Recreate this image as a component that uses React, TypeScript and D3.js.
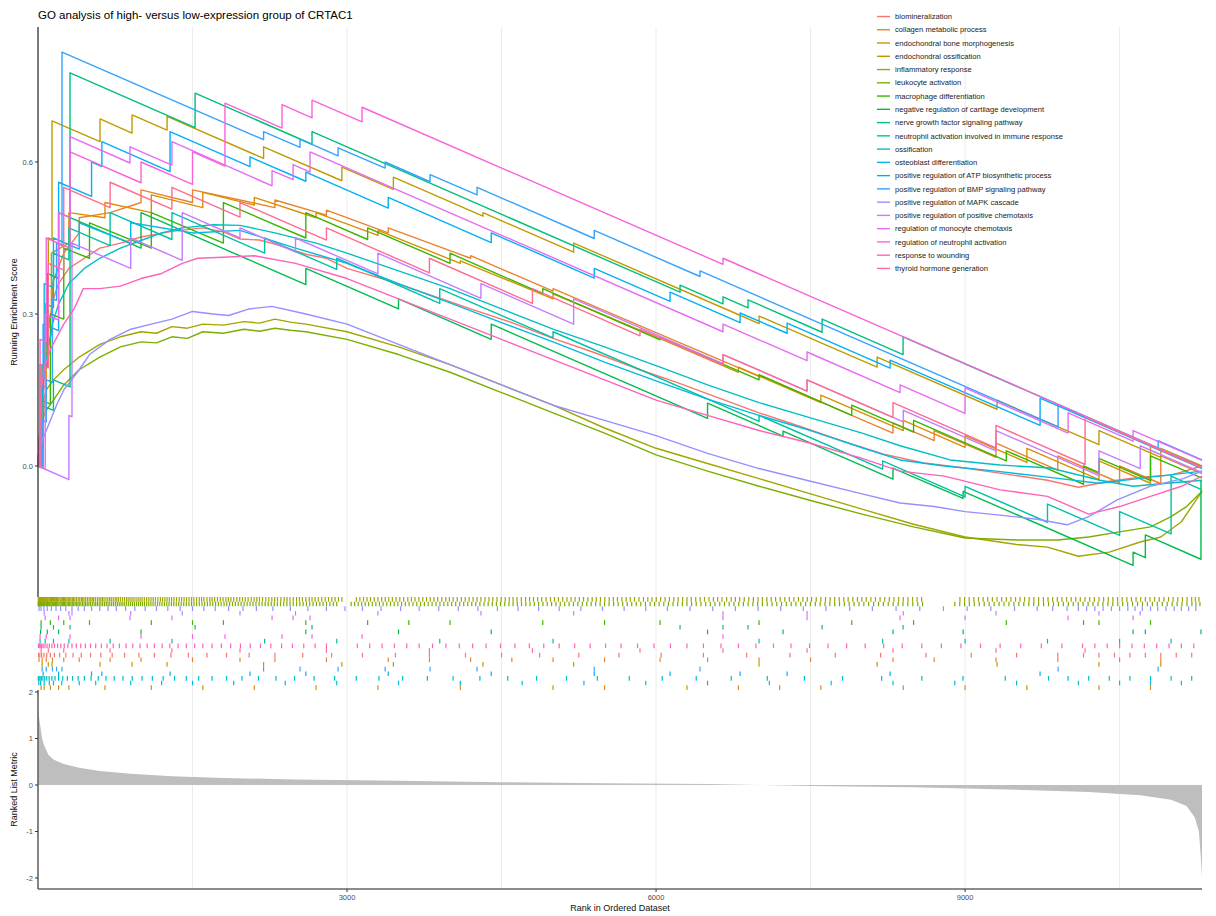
import { useRef, useEffect } from "react";
import * as d3 from "d3";

const setNames = [
  "biomineralization",
  "collagen metabolic process",
  "endochondral bone morphogenesis",
  "endochondral ossification",
  "inflammatory response",
  "leukocyte activation",
  "macrophage differentiation",
  "negative regulation of cartilage development",
  "nerve growth factor signaling pathway",
  "neutrophil activation involved in immune response",
  "ossification",
  "osteoblast differentiation",
  "positive regulation of ATP biosynthetic process",
  "positive regulation of BMP signaling pathway",
  "positive regulation of MAPK cascade",
  "positive regulation of positive chemotaxis",
  "regulation of monocyte chemotaxis",
  "regulation of neutrophil activation",
  "response to wounding",
  "thyroid hormone generation",
];

const setColors = [
  "#F8766D", "#EA8331", "#D89000", "#C09B00", "#A3A500",
  "#7CAE00", "#39B600", "#00BB4E", "#00BF7D", "#00C1A3",
  "#00BFC4", "#00BAE0", "#00B0F6", "#35A2FF", "#9590FF",
  "#C77CFF", "#E76BF3", "#FA62DB", "#FF62BC", "#FF6C91",
];

// running enrichment score, [rank, score]
const esBiomineralization = [[0,0],[30,0.12],[60,0.2],[100,0.27],[150,0.33],[200,0.36],[300,0.39],[450,0.41],[600,0.43],[800,0.44],[1000,0.452],[1300,0.463],[1600,0.47],[1800,0.462],[1961,0.448],[2150,0.446],[2300,0.438],[2600,0.418],[2800,0.41],[3000,0.39],[3400,0.366],[3800,0.338],[4200,0.31],[4600,0.283],[5000,0.252],[5400,0.224],[5800,0.193],[6200,0.165],[6600,0.135],[7000,0.105],[7400,0.078],[7800,0.05],[8200,0.024],[8600,0.006],[9000,-0.004],[9400,-0.016],[9800,-0.028],[10100,-0.042],[10400,-0.03],[10700,-0.022],[11000,-0.018],[11300,0]];
const esCollagen = [[0,0],[40,0.08],[80,0.15],[80,0.22],[140,0.27],[140,0.36],[250,0.42],[400,0.46],[400,0.49],[700,0.5],[1000,0.52],[1000,0.545],[1500,0.52],[1500,0.545],[1961,0.525],[2300,0.51],[2300,0.525],[2800,0.495],[2800,0.505],[3400,0.46],[3400,0.47],[4200,0.41],[4200,0.415],[5000,0.345],[5000,0.35],[6039,0.26],[7000,0.177],[7000,0.18],[7787,0.11],[8300,0.065],[8300,0.085],[8700,0.05],[8700,0.07],[9300,0.017],[9300,0.045],[9900,-0.008],[9900,0.02],[10500,-0.033],[10500,0.0],[10900,-0.035],[10900,0.02],[11300,-0.015]];
const esBoneMorph = [[0,0],[30,0.06],[30,0.14],[70,0.16],[70,0.26],[130,0.3],[130,0.42],[300,0.44],[300,0.5],[650,0.49],[650,0.52],[1100,0.5],[1100,0.535],[1600,0.51],[1600,0.54],[2100,0.515],[2100,0.53],[2700,0.49],[2700,0.5],[3300,0.455],[3300,0.465],[4100,0.4],[4100,0.405],[5000,0.33],[5000,0.34],[6000,0.255],[6800,0.185],[6800,0.195],[7600,0.125],[7600,0.14],[8400,0.07],[8400,0.09],[9000,0.037],[9000,0.06],[9600,0.007],[9600,0.035],[10300,-0.027],[10300,0.01],[10800,-0.034],[10800,0.04],[11300,-0.004]];
const esEndoOssification = [[0,0],[40,0.0],[40,0.2],[100,0.195],[100,0.45],[136,0.447],[136,0.681],[602,0.64],[602,0.685],[913,0.657],[913,0.693],[1253,0.663],[1253,0.69],[2190,0.607],[2190,0.63],[2950,0.563],[2950,0.59],[3450,0.546],[3450,0.57],[4320,0.493],[4320,0.5],[5200,0.422],[5200,0.44],[6786,0.3],[7000,0.281],[7000,0.296],[8146,0.195],[8146,0.215],[9310,0.112],[9310,0.13],[10300,0.042],[10300,0.07],[10900,0.017],[10900,0.035],[11300,0.0]];
const esInflammatory = [[0,0],[15,0.06],[40,0.12],[80,0.15],[150,0.17],[250,0.19],[400,0.215],[600,0.24],[800,0.255],[1000,0.265],[1150,0.262],[1300,0.275],[1450,0.272],[1600,0.28],[1800,0.278],[2000,0.285],[2150,0.282],[2300,0.29],[2450,0.284],[2600,0.28],[3000,0.265],[3500,0.235],[4000,0.2],[4500,0.16],[5000,0.12],[5500,0.075],[6000,0.035],[6500,0.005],[7000,-0.025],[7500,-0.055],[8000,-0.085],[8500,-0.115],[9000,-0.14],[9500,-0.155],[9800,-0.16],[10100,-0.178],[10400,-0.17],[10700,-0.15],[10900,-0.14],[11100,-0.11],[11200,-0.08],[11300,-0.05]];
const esLeukocyte = [[0,0],[15,0.04],[40,0.09],[80,0.11],[150,0.13],[250,0.16],[400,0.19],[600,0.215],[800,0.235],[1000,0.245],[1150,0.243],[1300,0.255],[1450,0.252],[1600,0.265],[1800,0.262],[2000,0.27],[2150,0.266],[2300,0.272],[2450,0.268],[2600,0.265],[3000,0.25],[3500,0.22],[4000,0.185],[4500,0.145],[5000,0.105],[5500,0.065],[6000,0.022],[6500,-0.01],[7000,-0.04],[7500,-0.068],[8000,-0.095],[8500,-0.12],[9000,-0.142],[9500,-0.146],[9900,-0.146],[10200,-0.14],[10500,-0.13],[10800,-0.12],[11000,-0.1],[11150,-0.08],[11300,-0.05]];
const esMacrophage = [[0,0],[30,0.0],[30,0.13],[120,0.122],[120,0.3],[250,0.29],[250,0.43],[500,0.41],[500,0.48],[1100,0.43],[1100,0.5],[1800,0.44],[1800,0.52],[2600,0.45],[2600,0.5],[3200,0.447],[3200,0.47],[4000,0.4],[4000,0.42],[4900,0.34],[4900,0.35],[6039,0.249],[6039,0.255],[7000,0.17],[7000,0.18],[7900,0.1],[7900,0.12],[8500,0.067],[8500,0.09],[9400,0.01],[9400,0.03],[10150,-0.036],[10150,0.0],[10300,-0.013],[10300,0.015],[10800,-0.029],[10800,0.02],[11300,-0.024]];
const esCartilage = [[0,0],[25,0.0],[25,0.2],[90,0.194],[90,0.38],[200,0.37],[200,0.5],[1000,0.43],[1000,0.5],[2600,0.358],[2600,0.39],[3500,0.31],[3500,0.33],[4400,0.25],[4400,0.28],[6500,0.094],[6500,0.124],[7233,0.059],[7233,0.069],[8300,-0.026],[8300,-0.004],[8981,-0.064],[8981,-0.05],[10631,-0.196],[10631,-0.17],[10750,-0.181],[10750,-0.136],[11290,-0.184],[11290,-0.03],[11300,-0.03]];
const esNerveGrowth = [[0,0],[30,0.0],[30,0.12],[150,0.11],[150,0.17],[311,0.156],[311,0.776],[1525,0.668],[1525,0.736],[2660,0.635],[2660,0.66],[6233,0.343],[6233,0.357],[6650,0.32],[6650,0.334],[6893,0.312],[6893,0.328],[7612,0.264],[7612,0.29],[8398,0.22],[8398,0.255],[11300,-0.002]];
const esNeutrophilImmune = [[0,0],[20,0.0],[20,0.2],[70,0.196],[70,0.32],[150,0.313],[150,0.42],[300,0.407],[300,0.47],[700,0.435],[700,0.5],[1300,0.447],[1300,0.5],[2200,0.42],[2200,0.45],[2900,0.388],[2900,0.41],[3900,0.321],[3900,0.35],[5000,0.253],[5000,0.265],[7000,0.088],[7000,0.1],[8200,-0.006],[8200,0.01],[9000,-0.061],[9000,-0.04],[9800,-0.111],[9800,-0.075],[10500,-0.137],[10500,-0.09],[11000,-0.134],[11000,-0.02],[11300,-0.047]];
const esOssification = [[0,0],[20,0.08],[50,0.16],[90,0.22],[140,0.28],[200,0.32],[300,0.36],[450,0.39],[600,0.41],[800,0.43],[1000,0.445],[1200,0.46],[1400,0.47],[1700,0.476],[1961,0.475],[2300,0.46],[2700,0.44],[3000,0.42],[3500,0.385],[4000,0.35],[4500,0.31],[5000,0.27],[5500,0.235],[6039,0.195],[6500,0.16],[7000,0.125],[7500,0.095],[8000,0.065],[8369,0.04],[8855,0.012],[9340,0.002],[9825,-0.004],[10311,-0.028],[10631,-0.04],[10960,-0.034],[11300,-0.028]];
const esOsteoblast = [[0,0],[20,0.0],[20,0.2],[60,0.196],[60,0.36],[150,0.352],[150,0.45],[400,0.428],[400,0.48],[900,0.44],[900,0.48],[1500,0.46],[1961,0.465],[2500,0.43],[3000,0.4],[3500,0.36],[4000,0.322],[4500,0.283],[5000,0.245],[5500,0.205],[6000,0.168],[6500,0.132],[7000,0.1],[7500,0.07],[8000,0.036],[8369,0.012],[8800,0.0],[9300,-0.01],[9800,-0.022],[10300,-0.034],[10800,-0.022],[11300,-0.01]];
const esATP = [[0,0],[50,-0.004],[50,0.28],[200,0.267],[200,0.56],[520,0.532],[520,0.6],[620,0.591],[620,0.64],[1282,0.581],[1282,0.66],[2058,0.591],[2058,0.61],[2600,0.562],[2600,0.58],[3400,0.509],[3400,0.53],[4400,0.441],[4400,0.46],[5400,0.371],[5400,0.39],[6136,0.325],[6136,0.343],[6816,0.283],[6816,0.302],[7272,0.262],[7272,0.282],[8272,0.193],[8272,0.209],[9728,0.08],[9728,0.134],[11300,-0.005]];
const esBMP = [[0,0],[40,0.0],[40,0.09],[80,0.087],[80,0.17],[140,0.165],[140,0.33],[180,0.327],[180,0.44],[233,0.435],[233,0.817],[2190,0.644],[2190,0.66],[2544,0.629],[2544,0.645],[2913,0.612],[2913,0.628],[3370,0.588],[3370,0.6],[3806,0.561],[3806,0.575],[4262,0.535],[4262,0.55],[5400,0.449],[5400,0.465],[6427,0.374],[6427,0.385],[9903,0.077],[9903,0.12],[10874,0.034],[10874,0.05],[11300,0.012]];
const esMAPK = [[0,0],[15,0.03],[40,0.05],[100,0.08],[180,0.12],[250,0.15],[400,0.19],[500,0.22],[700,0.25],[900,0.27],[1100,0.28],[1300,0.29],[1500,0.305],[1700,0.3],[1850,0.297],[2050,0.31],[2270,0.315],[2600,0.3],[3000,0.28],[3500,0.24],[4000,0.2],[4500,0.16],[5000,0.12],[5500,0.09],[6000,0.06],[6500,0.025],[7000,-0.005],[7500,-0.03],[8000,-0.055],[8369,-0.073],[8700,-0.08],[9000,-0.09],[9340,-0.097],[9700,-0.105],[9990,-0.116],[10200,-0.1],[10476,-0.067],[10796,-0.04],[11117,-0.025],[11300,-0.01]];
const esPosChemotaxis = [[0,0],[300,-0.027],[300,0.1],[330,0.097],[330,0.44],[900,0.39],[900,0.45],[1400,0.406],[1400,0.5],[1961,0.45],[1961,0.47],[2500,0.422],[2500,0.45],[3300,0.379],[3300,0.42],[4300,0.331],[4300,0.36],[5200,0.28],[5200,0.33],[6650,0.202],[6650,0.22],[7466,0.148],[7466,0.17],[8400,0.087],[8400,0.11],[9300,0.03],[9300,0.07],[10300,-0.019],[10300,0.03],[10700,-0.005],[10700,0.04],[11300,-0.013]];
const esMonocyte = [[0,0],[70,-0.006],[70,0.3],[200,0.288],[200,0.5],[311,0.49],[311,0.65],[893,0.598],[893,0.63],[1300,0.594],[1300,0.64],[2272,0.553],[2272,0.583],[2476,0.565],[2476,0.595],[2641,0.58],[2641,0.62],[6650,0.265],[6650,0.28],[7466,0.208],[7466,0.225],[8369,0.145],[8369,0.16],[9000,0.104],[9000,0.154],[10000,0.065],[10000,0.105],[10631,0.049],[10631,0.07],[11300,0.011]];
const esNeutrophilReg = [[0,0],[20,-0.002],[20,0.25],[80,0.245],[80,0.45],[311,0.43],[311,0.62],[1000,0.559],[1000,0.6],[1500,0.556],[1500,0.62],[1815,0.592],[1815,0.716],[2369,0.667],[2369,0.713],[2660,0.687],[2660,0.722],[3146,0.679],[3146,0.708],[6650,0.398],[6650,0.41],[11300,-0.002]];
const esWounding = [[0,0],[15,0.06],[30,0.15],[60,0.19],[120,0.23],[250,0.28],[350,0.31],[440,0.35],[600,0.35],[800,0.355],[1000,0.37],[1200,0.38],[1400,0.4],[1550,0.41],[1800,0.412],[2100,0.415],[2500,0.4],[3000,0.37],[3500,0.33],[4000,0.29],[4500,0.25],[5000,0.21],[5500,0.17],[6000,0.13],[6500,0.1],[7000,0.07],[7500,0.045],[8000,0.015],[8369,-0.01],[8800,-0.02],[9340,-0.047],[9800,-0.06],[10200,-0.095],[10500,-0.08],[10800,-0.06],[11100,-0.04],[11300,-0.02]];
const esThyroid = [[0,0],[30,-0.003],[30,0.2],[100,0.194],[100,0.4],[250,0.387],[250,0.55],[700,0.51],[700,0.56],[1300,0.507],[1300,0.55],[1961,0.491],[1961,0.52],[2800,0.446],[2800,0.47],[3800,0.381],[3800,0.41],[4800,0.321],[4800,0.35],[5844,0.257],[5844,0.27],[6650,0.199],[6650,0.22],[7466,0.148],[7466,0.17],[8300,0.096],[8300,0.125],[9300,0.036],[9300,0.08],[10165,0.003],[10165,0.097],[11300,-0.004]];

// gene hit positions (ranks) for the rug panel
const hitsBiomineralization = [5,18,35,58,85,120,160,210,270,340,420,510,610,720,840,980,1130,1290,1460,1640,1830,2050,2300,2570,2850,3150,3470,3800,4150,4500,4870,5250,5640,6050,6460,6880,7300,7740,8180,8620,9060,9500,9900,10150,10300,10450,10600,10750,10900,11050,11200];
const hitsCollagen = [10,40,80,140,250,400,700,1000,1500,1961,2300,2800,3400,3800,4200,4600,5000,5500,6039,6500,7000,7500,8300,8700,9300,9900,10500,10900];
const hitsBoneMorph = [30,60,120,200,300,650,1100,1600,2100,2700,3300,4100,5000,5500,6300,6800,7200,7600,8400,9000,9600,10300,10800];
const hitsEndoOssification = [40,100,136,602,913,1253,2190,2950,3450,4320,5200,7000,8146,9310,10300,10900];
const hitsInflammatory = [3,9,14,18,23,27,34,41,48,55,62,68,76,84,90,97,106,115,123,131,140,150,161,172,181,190,202,214,225,236,247,259,270,281,294,307,320,333,345,358,374,390,405,421,434,447,463,480,496,512,526,540,558,577,594,610,625,641,660,678,695,712,730,749,765,781,800,820,839,858,875,893,912,931,952,972,991,1010,1032,1055,1076,1097,1118,1140,1164,1188,1210,1232,1253,1275,1297,1320,1345,1371,1394,1418,1442,1466,1490,1513,1540,1566,1588,1610,1640,1668,1690,1715,1742,1770,1797,1824,1848,1873,1900,1930,1958,1985,2012,2040,2070,2098,2124,2150,2180,2211,2240,2270,2298,2325,2358,2390,2418,2446,2478,2510,2538,2567,2600,2633,2660,2690,2722,2755,2788,2820,2852,2884,2917,2950,3090,3125,3160,3194,3228,3264,3300,3336,3371,3405,3440,3476,3512,3550,3590,3625,3660,3698,3735,3772,3808,3844,3880,3920,3958,3994,4030,4070,4110,4148,4185,4224,4262,4300,4340,4378,4415,4456,4497,4536,4575,4612,4650,4692,4733,4772,4810,4850,4890,4932,4975,5014,5052,5094,5135,5175,5214,5255,5296,5338,5380,5420,5460,5502,5545,5585,5625,5668,5710,5750,5790,5834,5878,5920,5960,6002,6045,6088,6130,6172,6215,6258,6300,6342,6385,6428,6470,6514,6557,6598,6640,6685,6730,6770,6812,6856,6900,6945,6990,7032,7075,7118,7160,7205,7250,7294,7338,7382,7425,7468,7510,7555,7600,7645,7690,7734,7778,7822,7865,7910,7955,7998,8040,8085,8130,8175,8220,8265,8310,8355,8400,8445,8490,8534,8578,8950,8995,9040,9085,9130,9175,9220,9265,9310,9355,9400,9445,9490,9534,9578,9622,9668,9714,9760,9805,9850,9895,9940,9985,10030,10074,10118,10164,10210,10255,10300,10345,10390,10435,10480,10525,10570,10615,10660,10705,10750,10795,10840,10885,10930,10975,11020,11065,11110,11155,11200,11235,11270];
const hitsLeukocyte = [1,6,10,13,18,22,28,34,40,47,54,61,68,76,84,92,100,108,116,125,134,143,152,162,171,181,192,203,214,225,236,247,258,270,282,295,308,320,333,346,360,373,387,401,416,432,447,462,478,494,510,527,544,560,577,594,611,628,646,663,680,697,715,733,752,770,788,806,824,842,861,880,899,918,937,957,976,995,1014,1034,1055,1075,1096,1117,1138,1160,1182,1204,1227,1250,1272,1295,1318,1342,1366,1390,1415,1440,1465,1490,1515,1540,1566,1592,1618,1645,1671,1697,1724,1751,1778,1806,1833,1860,1888,1916,1944,1972,2001,2030,2058,2087,2116,2146,2175,2205,2234,2264,2294,2324,2354,2385,2416,2447,2478,2510,2542,2574,2606,2638,2670,2703,2736,2768,2801,2834,2867,2900,3040,3074,3108,3142,3176,3210,3245,3280,3315,3350,3386,3422,3458,3494,3530,3566,3603,3640,3677,3714,3751,3788,3826,3864,3902,3940,3978,4016,4055,4094,4133,4172,4211,4250,4290,4330,4370,4410,4450,4490,4531,4572,4612,4653,4694,4736,4777,4818,4860,4902,4944,4986,5028,5070,5113,5156,5198,5241,5284,5327,5370,5414,5457,5500,5544,5588,5632,5676,5720,5764,5808,5852,5897,5942,5986,6030,6075,6120,6165,6210,6255,6300,6345,6390,6436,6482,6527,6572,6618,6664,6710,6756,6802,6848,6894,6940,6986,7032,7079,7126,7172,7218,7265,7312,7358,7405,7452,7499,7546,7593,7640,7687,7734,7781,7828,7875,7922,7970,8017,8064,8112,8160,8207,8254,8302,8350,8397,8444,8492,8540,8587,8900,8948,8995,9042,9090,9138,9186,9234,9282,9330,9378,9426,9474,9522,9570,9618,9666,9714,9762,9810,9858,9906,9954,10002,10050,10098,10146,10194,10242,10290,10338,10386,10434,10482,10530,10578,10626,10674,10722,10770,10818,10866,10914,10962,11010,11058,11106,11154,11202,11241,11280];
const hitsMacrophage = [30,120,250,500,1100,1500,1800,2600,3200,3600,4000,4900,5500,6039,7000,7900,8500,9400,10150,10300,10800];
const hitsCartilage = [25,90,200,1000,2600,3500,4400,6500,7233,8300,8981,10631,10750,11290];
const hitsNerveGrowth = [30,150,311,1525,2660,6233,6650,6893,7612,8398];
const hitsNeutrophilImmune = [20,70,150,300,700,1300,2200,2900,3900,5000,7000,8200,9000,9800,10500,11000];
const hitsOssification = [3,10,20,33,48,65,85,108,135,165,200,240,285,335,390,450,515,585,660,740,825,915,1010,1110,1215,1325,1440,1560,1690,1830,1980,2140,2310,2490,2680,2880,3090,3310,3540,3780,4030,4290,4560,4840,5130,5430,5740,6060,6390,6730,7080,7440,7810,8190,8580,8980,9390,9810,10000,10200,10400,10600,10800,11000,11200];
const hitsOsteoblast = [8,25,60,110,150,230,400,560,900,1200,1500,1900,2400,2900,3500,4100,4700,5300,5900,6500,7100,7700,8300,8900,9500,10100,10500,10800,11100];
const hitsATP = [50,200,520,620,1282,2058,2600,3400,4400,5400,6136,6816,7272,8272,9728];
const hitsBMP = [40,80,140,180,233,2190,2544,2913,3370,3806,4262,5400,6427,9903,10874];
const hitsMAPK = [10,30,58,90,130,175,220,270,330,390,450,520,600,680,760,850,940,1040,1150,1260,1380,1500,1610,1720,1850,1990,2120,2280,2450,2620,2800,2980,3150,3330,3520,3700,3890,4080,4270,4460,4660,4860,5060,5270,5480,5690,5900,6110,6330,6550,6770,6990,7210,7430,7650,7880,8100,8330,8560,8790,9020,9250,9480,9700,9850,9990,10100,10180,10260,10340,10420,10500,10580,10650,10720,10800,10870,10950,11030,11100,11170,11240];
const hitsPosChemotaxis = [60,300,330,900,1400,1961,2500,3300,4300,5200,6650,7466,8400,9300,10300,10700];
const hitsMonocyte = [70,200,311,893,1300,2272,2476,2641,6650,7466,8369,9000,10000,10631];
const hitsNeutrophilReg = [20,80,311,1000,1500,1815,2369,2660,3146,6650];
const hitsWounding = [4,12,22,35,50,68,88,110,135,160,190,222,255,290,330,372,415,460,510,560,615,670,730,790,855,920,990,1060,1130,1205,1280,1360,1440,1520,1600,1690,1780,1870,1965,2060,2160,2260,2365,2470,2580,2690,2800,3100,3220,3340,3460,3580,3700,3830,3960,4090,4220,4350,4490,4630,4770,4910,5060,5210,5360,5510,5660,5820,5980,6140,6300,6460,6630,6800,6970,7140,7310,7490,7670,7850,8030,8210,8390,8580,8770,8960,9150,9340,9540,9740,9940,10140,10260,10380,10500,10620,10740,10860,10980,11100,11220];
const hitsThyroid = [30,100,250,700,1300,1961,2800,3800,4800,5844,6650,7466,8300,9300,10165];

const esCurves = [esBiomineralization, esCollagen, esBoneMorph, esEndoOssification, esInflammatory, esLeukocyte, esMacrophage, esCartilage, esNerveGrowth, esNeutrophilImmune, esOssification, esOsteoblast, esATP, esBMP, esMAPK, esPosChemotaxis, esMonocyte, esNeutrophilReg, esWounding, esThyroid];
const hitSets = [hitsBiomineralization, hitsCollagen, hitsBoneMorph, hitsEndoOssification, hitsInflammatory, hitsLeukocyte, hitsMacrophage, hitsCartilage, hitsNerveGrowth, hitsNeutrophilImmune, hitsOssification, hitsOsteoblast, hitsATP, hitsBMP, hitsMAPK, hitsPosChemotaxis, hitsMonocyte, hitsNeutrophilReg, hitsWounding, hitsThyroid];
// rug rows, top to bottom (indices into setNames)
const rugOrder = [4, 5, 14, 15, 16, 6, 8, 7, 17, 9, 18, 19, 0, 1, 3, 13, 12, 10, 11, 2];

// ranked list metric
const metricRank = [1,20,40,60,80,100,150,250,400,600,900,1300,1800,2500,3500,4500,5500,6500,7000,7500,8500,9500,10200,10700,11000,11150,11230,11270,11290,11300];
const metricValue = [1.6,1.3,1.0,0.85,0.75,0.65,0.55,0.45,0.37,0.3,0.24,0.19,0.15,0.12,0.09,0.06,0.04,0.02,0.0,-0.02,-0.05,-0.1,-0.15,-0.22,-0.32,-0.45,-0.7,-1.0,-1.6,-2.0];

const rankTicks = [3000, 6000, 9000];
const gridRanks = [1500, 3000, 4500, 6000, 7500, 9000, 10500];
const esTicks = [0, 0.3, 0.6];
const metricTicks = [-2, -1, 0, 1, 2];
const rankMax = 11300;

export default function App() {
  const ref = useRef(null);

  useEffect(() => {
    document.body.style.margin = "0";
    const svg = d3.select(ref.current);
    svg.selectAll("*").remove();

    const W = 1216, H = 916;
    const L = 38, R = 1202;
    const topY0 = 27, topY1 = 597, rugY1 = 690, botY1 = 889;
    const font = "'Liberation Sans', Arial, sans-serif";

    const x = d3.scaleLinear().domain([0, rankMax]).range([L, R]);
    const yEs = d3.scaleLinear().domain([-0.2585, 0.8664]).range([topY1, topY0]);
    const yM = d3.scaleLinear().domain([-2.237, 2.043]).range([botY1, rugY1]);
    const yRug = d3.scaleBand().domain(rugOrder.map(String)).range([topY1, rugY1]);

    svg.attr("width", W).attr("height", H).style("font-family", font);
    svg.append("rect").attr("width", W).attr("height", H).attr("fill", "#fff");

    // grid lines
    const g = svg.append("g");
    g.selectAll("line.grid")
      .data(gridRanks)
      .join("line")
      .attr("x1", (d) => x(d))
      .attr("x2", (d) => x(d))
      .attr("y1", topY0)
      .attr("y2", botY1)
      .attr("stroke", "#EBEBEB")
      .attr("stroke-width", 1);

    // bottom metric area
    const metric = metricRank.map((r, i) => [r, metricValue[i]]);
    g.append("path")
      .datum(metric)
      .attr("fill", "#BEBEBE")
      .attr("d", d3.area().x((d) => x(d[0])).y0(yM(0)).y1((d) => yM(d[1])));

    // rug
    rugOrder.forEach((si) => {
      const y0 = yRug(String(si));
      g.append("g")
        .selectAll("line")
        .data(hitSets[si])
        .join("line")
        .attr("x1", (d) => x(d))
        .attr("x2", (d) => x(d))
        .attr("y1", y0)
        .attr("y2", y0 + yRug.bandwidth())
        .attr("stroke", setColors[si])
        .attr("stroke-width", 1.2);
    });

    // running ES curves
    const line = d3.line().x((d) => x(d[0])).y((d) => yEs(d[1]));
    esCurves.forEach((c, i) => {
      g.append("path")
        .datum(c)
        .attr("fill", "none")
        .attr("stroke", setColors[i])
        .attr("stroke-width", 1.4)
        .attr("stroke-linejoin", "round")
        .attr("d", line);
    });

    // axes
    g.append("line").attr("x1", L).attr("x2", L).attr("y1", topY0).attr("y2", topY1).attr("stroke", "#222").attr("stroke-width", 1.2);
    g.append("line").attr("x1", L).attr("x2", L).attr("y1", rugY1).attr("y2", botY1).attr("stroke", "#666").attr("stroke-width", 1.6);
    g.append("line").attr("x1", L).attr("x2", R).attr("y1", botY1).attr("y2", botY1).attr("stroke", "#666").attr("stroke-width", 1.6);

    esTicks.forEach((t) => {
      g.append("line").attr("x1", L - 3).attr("x2", L).attr("y1", yEs(t)).attr("y2", yEs(t)).attr("stroke", "#333");
      g.append("text").attr("x", L - 5).attr("y", yEs(t)).attr("dy", "0.35em").attr("text-anchor", "end")
        .attr("font-size", 7.5).attr("fill", "#4D4D4D").text(d3.format(".1f")(t));
    });
    metricTicks.forEach((t) => {
      g.append("line").attr("x1", L - 3).attr("x2", L).attr("y1", yM(t)).attr("y2", yM(t)).attr("stroke", "#333");
      g.append("text").attr("x", L - 5).attr("y", yM(t)).attr("dy", "0.35em").attr("text-anchor", "end")
        .attr("font-size", 7.5).attr("fill", "#4D4D4D").text(t);
    });
    rankTicks.forEach((t) => {
      g.append("line").attr("x1", x(t)).attr("x2", x(t)).attr("y1", botY1).attr("y2", botY1 + 3).attr("stroke", "#333");
      g.append("text").attr("x", x(t)).attr("y", botY1 + 11).attr("text-anchor", "middle")
        .attr("font-size", 7.5).attr("fill", "#4D4D4D").text(t);
    });

    // titles
    svg.append("text").attr("x", L).attr("y", 19).attr("font-size", 11.5).attr("fill", "#000")
      .text("GO analysis of high- versus low-expression group of CRTAC1");
    svg.append("text").attr("transform", `translate(17,${(topY0 + topY1) / 2}) rotate(-90)`)
      .attr("text-anchor", "middle").attr("font-size", 9).attr("fill", "#111").text("Running Enrichment Score");
    svg.append("text").attr("transform", `translate(17,${(rugY1 + botY1) / 2}) rotate(-90)`)
      .attr("text-anchor", "middle").attr("font-size", 9).attr("fill", "#111").text("Ranked List Metric");
    svg.append("text").attr("x", (L + R) / 2).attr("y", 911).attr("text-anchor", "middle")
      .attr("font-size", 9).attr("fill", "#111").text("Rank in Ordered Dataset");

    // legend
    const lg = svg.append("g");
    setNames.forEach((n, i) => {
      const yy = 16.5 + i * 13.26;
      lg.append("line").attr("x1", 877).attr("x2", 890).attr("y1", yy).attr("y2", yy)
        .attr("stroke", setColors[i]).attr("stroke-width", 1.4);
      lg.append("text").attr("x", 895).attr("y", yy).attr("dy", "0.35em").attr("font-size", 7.6)
        .attr("fill", "#222").text(n);
    });
  }, []);

  return <svg ref={ref} style={{ display: "block" }} />;
}
